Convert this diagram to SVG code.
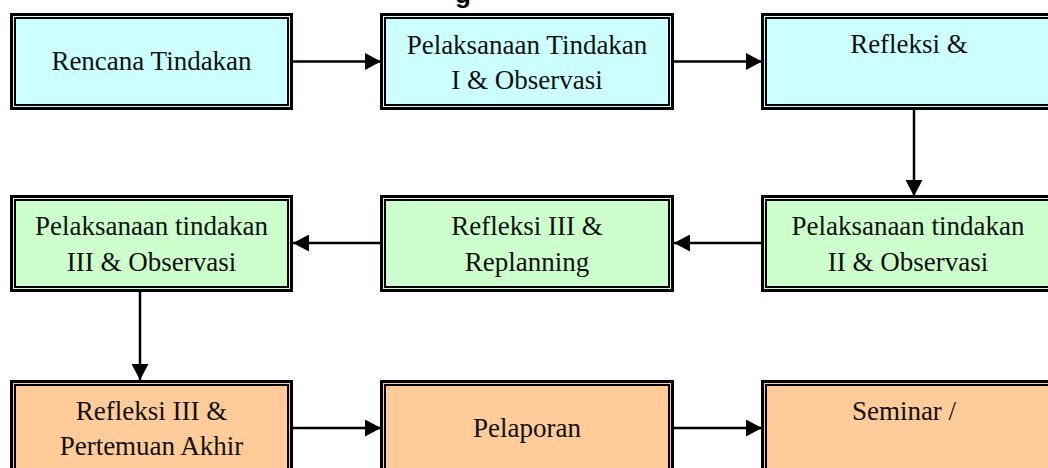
<svg xmlns="http://www.w3.org/2000/svg" width="1048" height="468" viewBox="0 0 1048 468">
<defs>
<style>
.o{stroke:#000;stroke-width:3}
.i{fill:none;stroke:#000;stroke-width:2}
.c{fill:#CCFFFF}
.g{fill:#CCFFCC}
.r{fill:#FFCC99}
.t{font-family:"Liberation Serif","Times New Roman",serif;font-size:27px;fill:#111;text-anchor:middle}
.ttl{font-family:"Liberation Sans",Arial,sans-serif;font-size:26px;font-weight:bold;fill:#000}
.a{stroke:#000;stroke-width:2.5;fill:none;marker-end:url(#ah)}
</style>
<marker id="ah" markerWidth="16" markerHeight="17" refX="16" refY="8.5" orient="auto" markerUnits="userSpaceOnUse">
<path d="M0,0 L16,8.5 L0,17 Z" fill="#000"/>
</marker>
</defs>
<rect width="1048" height="468" fill="#fff"/>
<text class="ttl" x="455" y="3">g</text>

<g id="n1"><rect class="o c" x="11.5" y="14.5" width="280" height="94"/><rect class="i" x="15" y="18" width="273" height="87"/><text class="t" x="151.5" y="70">Rencana Tindakan</text></g>
<g id="n2"><rect class="o c" x="381.5" y="14.5" width="291" height="94"/><rect class="i" x="385" y="18" width="284" height="87"/><text class="t" x="527" y="54">Pelaksanaan Tindakan</text><text class="t" x="527" y="89">I &amp; Observasi</text></g>
<g id="n3"><rect class="o c" x="762.5" y="14.5" width="294" height="94"/><rect class="i" x="766" y="18" width="287" height="87"/><text class="t" x="909" y="53">Refleksi &amp;</text></g>

<g id="n4"><rect class="o g" x="11.5" y="196.5" width="280" height="94"/><rect class="i" x="15" y="200" width="273" height="87"/><text class="t" x="151.5" y="235">Pelaksanaan tindakan</text><text class="t" x="151.5" y="271">III &amp; Observasi</text></g>
<g id="n5"><rect class="o g" x="381.5" y="196.5" width="291" height="94"/><rect class="i" x="385" y="200" width="284" height="87"/><text class="t" x="527" y="235">Refleksi III &amp;</text><text class="t" x="527" y="271">Replanning</text></g>
<g id="n6"><rect class="o g" x="762.5" y="196.5" width="294" height="94"/><rect class="i" x="766" y="200" width="287" height="87"/><text class="t" x="908" y="235">Pelaksanaan tindakan</text><text class="t" x="908" y="271">II &amp; Observasi</text></g>

<g id="n7"><rect class="o r" x="11.5" y="381.5" width="280" height="94"/><rect class="i" x="15" y="385" width="273" height="87"/><text class="t" x="151.5" y="420">Refleksi III &amp;</text><text class="t" x="151.5" y="455">Pertemuan Akhir</text></g>
<g id="n8"><rect class="o r" x="381.5" y="381.5" width="291" height="94"/><rect class="i" x="385" y="385" width="284" height="87"/><text class="t" x="527" y="437">Pelaporan</text></g>
<g id="n9"><rect class="o r" x="762.5" y="381.5" width="294" height="94"/><rect class="i" x="766" y="385" width="287" height="87"/><text class="t" x="904" y="420">Seminar /</text></g>

<g id="connectors">
<line class="a" x1="293" y1="61.5" x2="381" y2="61.5"/>
<line class="a" x1="674" y1="61.5" x2="762" y2="61.5"/>
<line class="a" x1="914" y1="110" x2="914" y2="196"/>
<line class="a" x1="762" y1="243" x2="674" y2="243"/>
<line class="a" x1="381" y1="243" x2="293" y2="243"/>
<line class="a" x1="140" y1="292" x2="140" y2="380"/>
<line class="a" x1="293" y1="428" x2="381" y2="428"/>
<line class="a" x1="674" y1="428" x2="762" y2="428"/>
</g>
</svg>
